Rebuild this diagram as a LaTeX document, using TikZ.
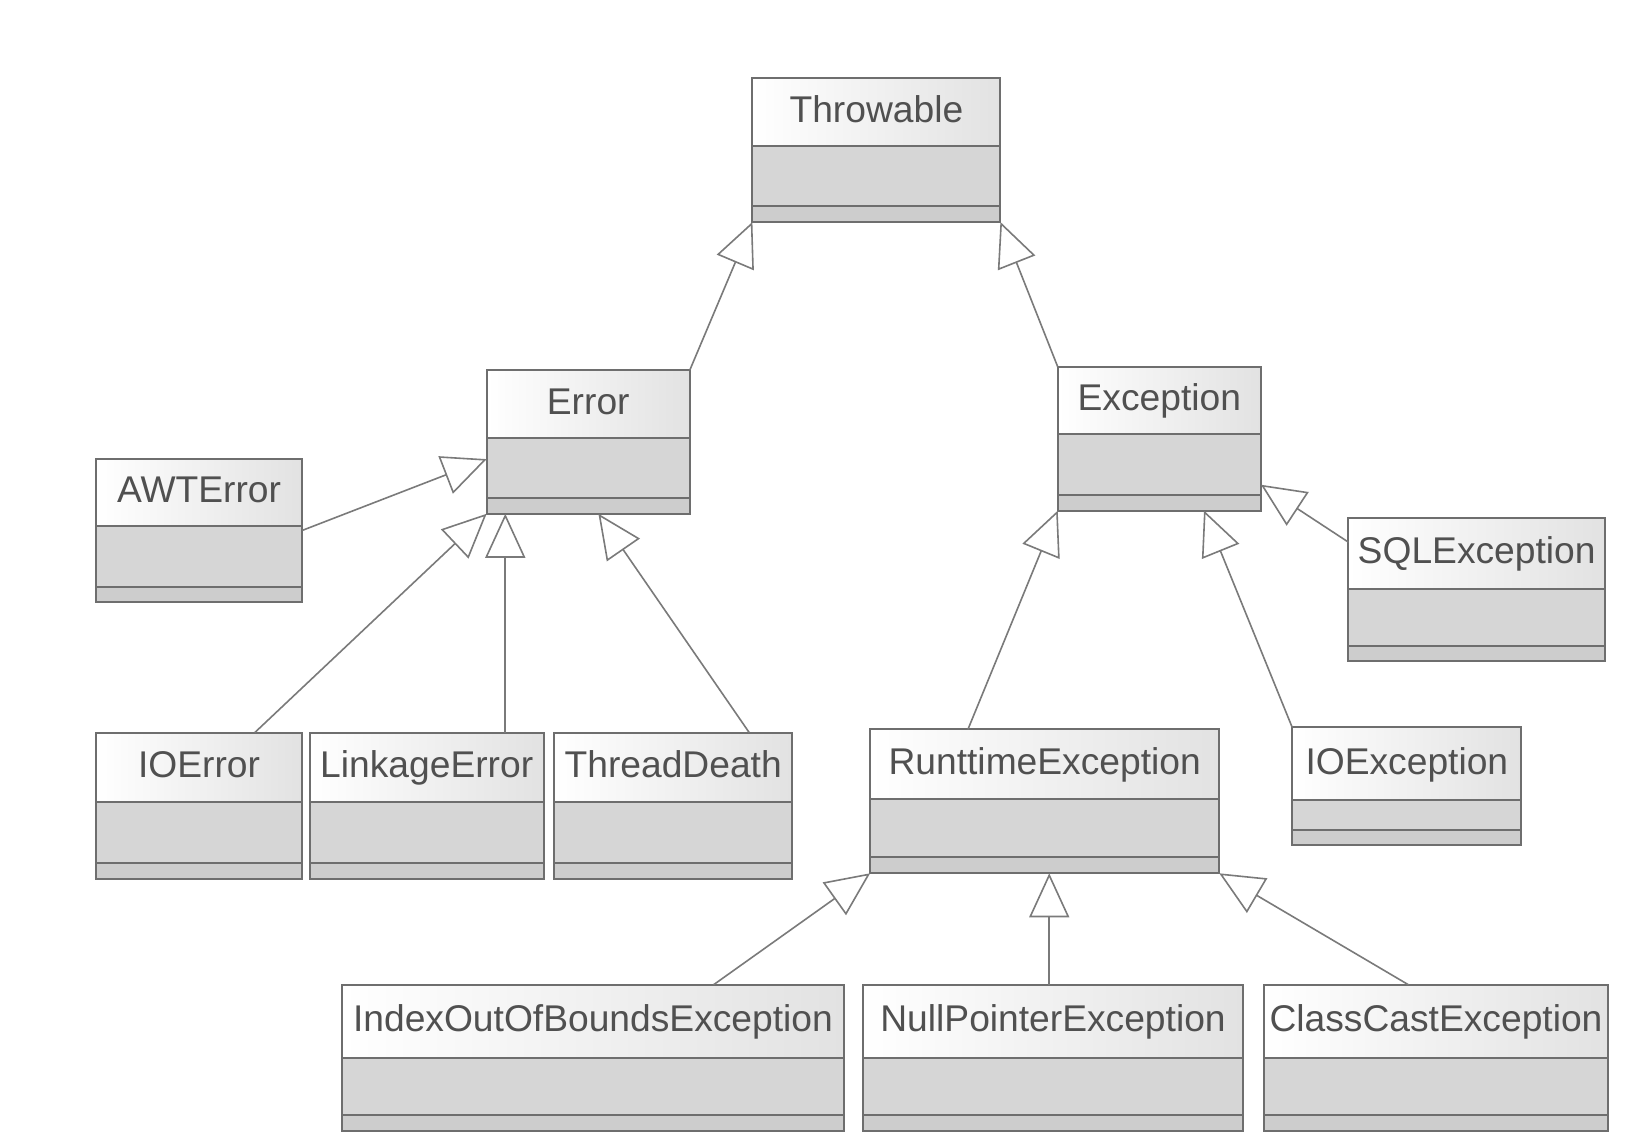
\documentclass[tikz,border=0pt]{standalone}
\usepackage{fontspec}
\setmainfont{Liberation Sans}
\usetikzlibrary{arrows.meta,calc}
\definecolor{boxline}{HTML}{6E6E6E}
\definecolor{edgeline}{HTML}{7A7A7A}
\definecolor{namefill}{HTML}{E2E2E2}
\definecolor{midfill}{HTML}{D6D6D6}
\definecolor{botfill}{HTML}{CDCDCD}
\definecolor{txt}{HTML}{505050}
\tikzset{
  boxedge/.style={draw=boxline, line width=1pt},
  classname/.style={anchor=base, inner sep=0pt, text=txt, font=\fontsize{18.6}{20}\selectfont},
  gen/.style={draw=edgeline, line width=0.8pt,
    -{Triangle[open, length=22pt, width=20pt, line width=0.8pt, fill=white]}},
}
% #1 name, #2 x1, #3 y1, #4 x2, #5 ysep1, #6 ysep2, #7 y2, #8 text
\newcommand\umlclass[8]{%
  \shade[left color=white, right color=namefill] (#2,#3) rectangle (#4,#5);
  \fill[midfill] (#2,#5) rectangle (#4,#6);
  \fill[botfill] (#2,#6) rectangle (#4,#7);
  \draw[boxedge] (#2,#3) rectangle (#4,#7) (#2,#5) -- (#4,#5) (#2,#6) -- (#4,#6);
  \node[inner sep=0pt, outer sep=0pt, minimum width={(#4-#2)*0.521pt}, minimum height={(#7-#3)*0.521pt}]
    (#1) at ({(#2+#4)/2},{(#3+#7)/2}) {};
  \node[classname] (#1-label) at ({(#2+#4)/2},{(#3+#5)/2+10}) {#8};
}
\begin{document}
\begin{tikzpicture}[x=0.521pt, y=-0.521pt]
\useasboundingbox (0,0) rectangle (1568,1098);
\fill[white] (0,0) rectangle (1568,1098);

\umlclass{thr}{722}{75}{960}{140}{198}{213}{Throwable}
\umlclass{err}{467}{355}{662}{420}{478}{493}{Error}
\umlclass{exc}{1015}{352}{1210}{416}{475}{490}{Exception}
\umlclass{awt}{92}{440}{290}{505}{563}{578}{AWTError}
\umlclass{sql}{1294}{497}{1540}{565}{620}{634}{SQLException}
\umlclass{ioe}{92}{703}{290}{770}{828}{843}{IOError}
\umlclass{lnk}{297}{703}{522}{770}{828}{843}{LinkageError}
\umlclass{thd}{532}{703}{760}{770}{828}{843}{ThreadDeath}
\umlclass{rte}{835}{700}{1170}{767}{822}{838}{RunttimeException}
\umlclass{iox}{1240}{698}{1460}{768}{796}{811}{IOException}
\umlclass{idx}{328}{945}{810}{1015}{1070}{1085}{IndexOutOfBoundsException}
\umlclass{npe}{828}{945}{1193}{1015}{1070}{1085}{NullPointerException}
\umlclass{cce}{1213}{945}{1543}{1015}{1070}{1085}{ClassCastException}

% generalizations
\draw[gen] (err.north east) -- (thr.south west);
\draw[gen] (exc.north west) -- (thr.south east);
\draw[gen] (awt.east) -- ($(err.north west)!0.62!(err.south west)$);
\draw[gen] ($(ioe.north west)!0.77!(ioe.north east)$) -- (err.south west);
\coordinate (lk) at ($(lnk.north west)!0.835!(lnk.north east)$);
\draw[gen] (lk) -- (lk |- err.south);
\draw[gen] ($(thd.north west)!0.82!(thd.north east)$) -- ($(err.south west)!0.55!(err.south east)$);
\draw[gen] ($(rte.north west)!0.28!(rte.north east)$) -- (exc.south west);
\draw[gen] (iox.north west) -- ($(exc.south west)!0.72!(exc.south east)$);
\draw[gen] ($(sql.north west)!0.17!(sql.south west)$) -- ($(exc.north east)!0.82!(exc.south east)$);
\draw[gen] ($(idx.north west)!0.74!(idx.north east)$) -- (rte.south west);
\coordinate (np) at ($(npe.north west)!0.49!(npe.north east)$);
\draw[gen] (np) -- (np |- rte.south);
\draw[gen] ($(cce.north west)!0.42!(cce.north east)$) -- (rte.south east);
\end{tikzpicture}
\end{document}
